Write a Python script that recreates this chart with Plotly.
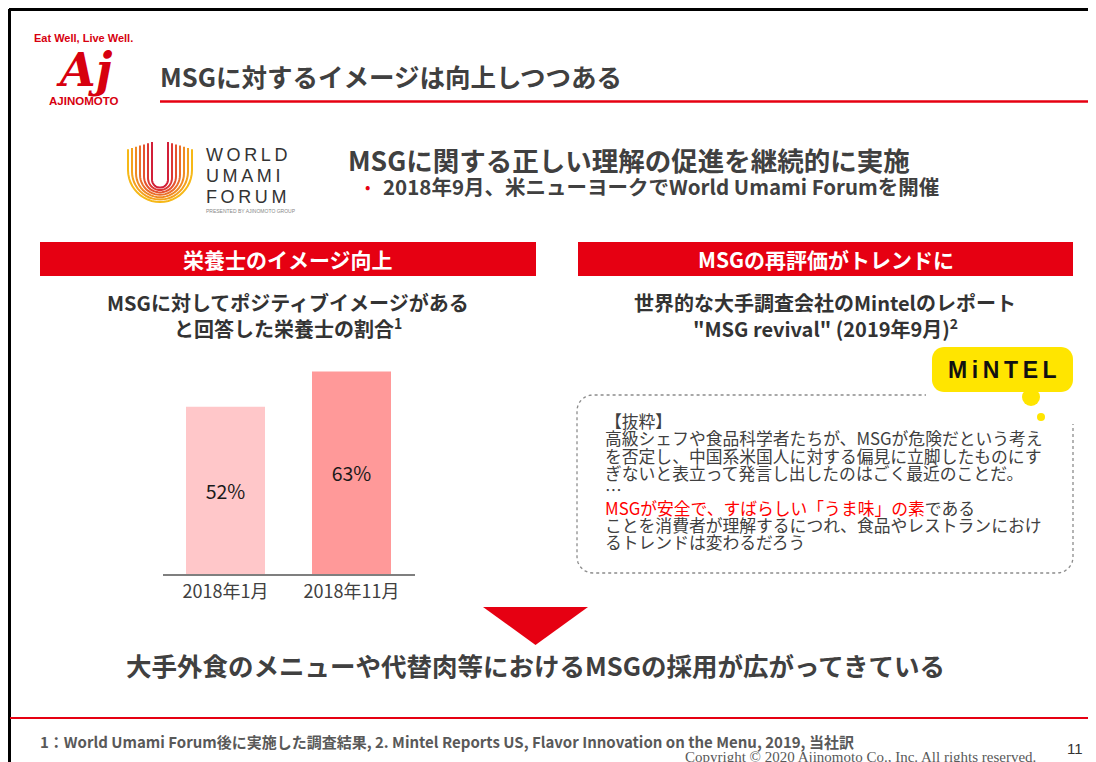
import numpy as np
import plotly.graph_objects as go

# the page body adds an 8px margin, so the figure is drawn 8px in from the window corner
OFF = 8
W, H = 1096 - OFF, 762 - OFF

# chart data
periods = ["2018年1月", "2018年11月"]
positive_share = [52, 63]
bar_labels = ["52%", "63%"]
bar_colors = ["#FFC7C9", "#FF9999"]

RED = "#E60012"
TXT = "#404040"
JP = "Noto Sans CJK JP"


def X(px):
    return (px - OFF) / W


def Y(py):
    return 1 - (py - OFF) / H


def path_from(points, close=False):
    s = "M " + " L ".join(f"{X(a):.5f},{Y(b):.5f}" for a, b in points)
    return s + (" Z" if close else "")


def round_rect(x0, y0, x1, y1, r):
    pts = []
    for cx, cy, a0 in [(x1 - r, y0 + r, -90), (x1 - r, y1 - r, 0),
                       (x0 + r, y1 - r, 90), (x0 + r, y0 + r, 180)]:
        for a in np.linspace(a0, a0 + 90, 10):
            t = np.radians(a)
            pts.append((cx + r * np.cos(t), cy + r * np.sin(t)))
    return path_from(pts, close=True)


fig = go.Figure()
fig.add_trace(go.Bar(
    x=periods, y=positive_share, text=bar_labels,
    textposition="inside", insidetextanchor="middle", textangle=0,
    marker=dict(color=bar_colors, line_width=0), width=0.627,
    textfont=dict(family=JP, size=19.5, color="#1a1a1a"),
    hoverinfo="skip",
))

shapes = []


def line(x0, y0, x1, y1, color, w):
    shapes.append(dict(type="line", xref="paper", yref="paper",
                       x0=X(x0), y0=Y(y0), x1=X(x1), y1=Y(y1),
                       line=dict(color=color, width=w)))


def rect(x0, y0, x1, y1, fill):
    shapes.append(dict(type="rect", xref="paper", yref="paper",
                       x0=X(x0), y0=Y(y0), x1=X(x1), y1=Y(y1),
                       fillcolor=fill, line_width=0))


def circle(cx, cy, r, fill):
    shapes.append(dict(type="circle", xref="paper", yref="paper",
                       x0=X(cx - r), y0=Y(cy - r), x1=X(cx + r), y1=Y(cy + r),
                       fillcolor=fill, line_width=0))


# slide frame and rules
line(9, 9.5, 1096, 9.5, "black", 3)
line(9.5, 9, 9.5, 762, "black", 3)
line(160, 101.5, 1096, 101.5, RED, 2.5)
line(10, 718, 1096, 718, RED, 2)

# red section headers
rect(40, 242, 536, 276, RED)
rect(578, 242, 1073, 276, RED)

# world umami forum rings
ring_cols = ["#F6B817", "#F4A11D", "#EF8A24", "#EA6E2A", "#E4532F", "#DC3834", "#D21F38"]
for r, c in zip([32, 28, 24, 20, 16, 12, 8], ring_cols):
    cx = 160
    cy = 170 + (32 - r) * 0.4
    top = 142 + (r - 8) * 0.3
    pts = [(cx - r, top), (cx - r, cy)]
    for a in np.linspace(180, 0, 25):
        t = np.radians(a)
        pts.append((cx + r * np.cos(t), cy + r * np.sin(t)))
    pts.append((cx + r, top))
    shapes.append(dict(type="path", xref="paper", yref="paper",
                       path=path_from(pts), line=dict(color=c, width=2)))

# quote box, dotted
shapes.append(dict(type="path", xref="paper", yref="paper",
                   path=round_rect(577, 395, 1073, 573, 16),
                   line=dict(color="#8c8c8c", width=1.3, dash="dot")))
rect(926, 342, 1078, 424, "white")

# mintel logo
MY = "#FFE500"
shapes.append(dict(type="path", xref="paper", yref="paper",
                   path=round_rect(932, 347, 1073, 392, 12),
                   fillcolor=MY, line_width=0))
circle(1031, 397, 9, MY)
circle(1041, 417, 4, MY)

# down arrow
shapes.append(dict(type="path", xref="paper", yref="paper",
                   path=path_from([(483, 607), (588, 607), (535.5, 645)], close=True),
                   fillcolor=RED, line_width=0))


def txt(s, x, y, size, color=TXT, bold=False, anchor="left", family=JP):
    fig.add_annotation(text=f"<b>{s}</b>" if bold else s, x=X(x), y=Y(y),
                       xref="paper", yref="paper", xanchor=anchor, yanchor="middle",
                       showarrow=False, font=dict(family=family, size=size, color=color))


# ajinomoto logo
LOGO_RED = "#D7000F"
txt("Eat Well, Live Well.", 83, 38, 11, LOGO_RED, True, "center", "Liberation Sans")
txt("<i>Aj</i>", 84, 70, 46, LOGO_RED, True, "center", "DejaVu Serif")
txt("AJINOMOTO", 83, 101, 11.5, LOGO_RED, True, "center", "Liberation Sans")

txt("MSGに対するイメージは向上しつつある", 158, 75, 25.5, TXT, True)

ts = "\u2009"
for i, w in enumerate(["WORLD", "UMAMI", "FORUM"]):
    txt(ts.join(w), 204, 155 + i * 21, 18, "#333333", False, "left", "Liberation Sans")
txt("PRESENTED BY AJINOMOTO GROUP", 204, 211, 5, "#888888", False, "left", "Liberation Sans")

txt("MSGに関する正しい理解の促進を継続的に実施", 346, 159, 26.5, TXT, True)
txt("•", 363, 186, 16, RED, False)
txt("2018年9月、米ニューヨークでWorld Umami Forumを開催", 381, 186, 20.5, TXT, True)

txt("栄養士のイメージ向上", 288, 259, 21, "white", True, "center")
txt("MSGの再評価がトレンドに", 825.5, 259, 21, "white", True, "center")

txt("MSGに対してポジティブイメージがある", 288, 302, 20, "#333333", True, "center")
txt("と回答した栄養士の割合<sup>1</sup>", 288, 328, 20, "#333333", True, "center")
txt("世界的な大手調査会社のMintelのレポート", 825, 302, 20, "#333333", True, "center")
txt("\"MSG revival\" (2019年9月)<sup>2</sup>", 825, 328, 20, "#333333", True, "center")

txt(ts.join("MiNTEL"), 1002, 370, 23, "#111111", True, "center", "Liberation Sans")

quote = [
    "【抜粋】",
    "高級シェフや食品科学者たちが、MSGが危険だという考え",
    "を否定し、中国系米国人に対する偏見に立脚したものにす",
    "ぎないと表立って発言し出したのはごく最近のことだ。",
    "…",
    "<span style='color:#FF0000'>MSGが安全で、すばらしい「うま味」の素</span>である",
    "ことを消費者が理解するにつれ、食品やレストランにおけ",
    "るトレンドは変わるだろう",
]
for i, q in enumerate(quote):
    txt(q, 603, 421 + i * 17.3, 16.8, TXT)

txt("大手外食のメニューや代替肉等におけるMSGの採用が広がってきている", 535, 664, 25.5, TXT, True, "center")

txt("1：World Umami Forum後に実施した調査結果, 2. Mintel Reports US, Flavor Innovation on the Menu, 2019, 当社訳",
    38, 741, 15, "#595959", True)
txt("Copyright © 2020 Ajinomoto Co., Inc. All rights reserved.", 860, 757, 15, "#595959",
    False, "center", "Liberation Serif")
txt("11", 1075, 748, 15, "#333333", False, "center", "Liberation Sans")

fig.update_layout(
    width=W, height=H, autosize=False,
    margin=dict(l=0, r=0, t=0, b=0),
    paper_bgcolor="white", plot_bgcolor="white",
    showlegend=False, shapes=shapes,
    xaxis=dict(domain=[X(162.5), X(414.5)], range=[-0.5, 1.5],
               showline=True, linecolor="#7f7f7f", linewidth=2,
               showgrid=False, zeroline=False, ticks="", fixedrange=True,
               tickfont=dict(family=JP, size=18, color=TXT)),
    yaxis=dict(domain=[Y(574), Y(349)], range=[0, 70], visible=False,
               fixedrange=True),
)

fig.write_html("out.html")
